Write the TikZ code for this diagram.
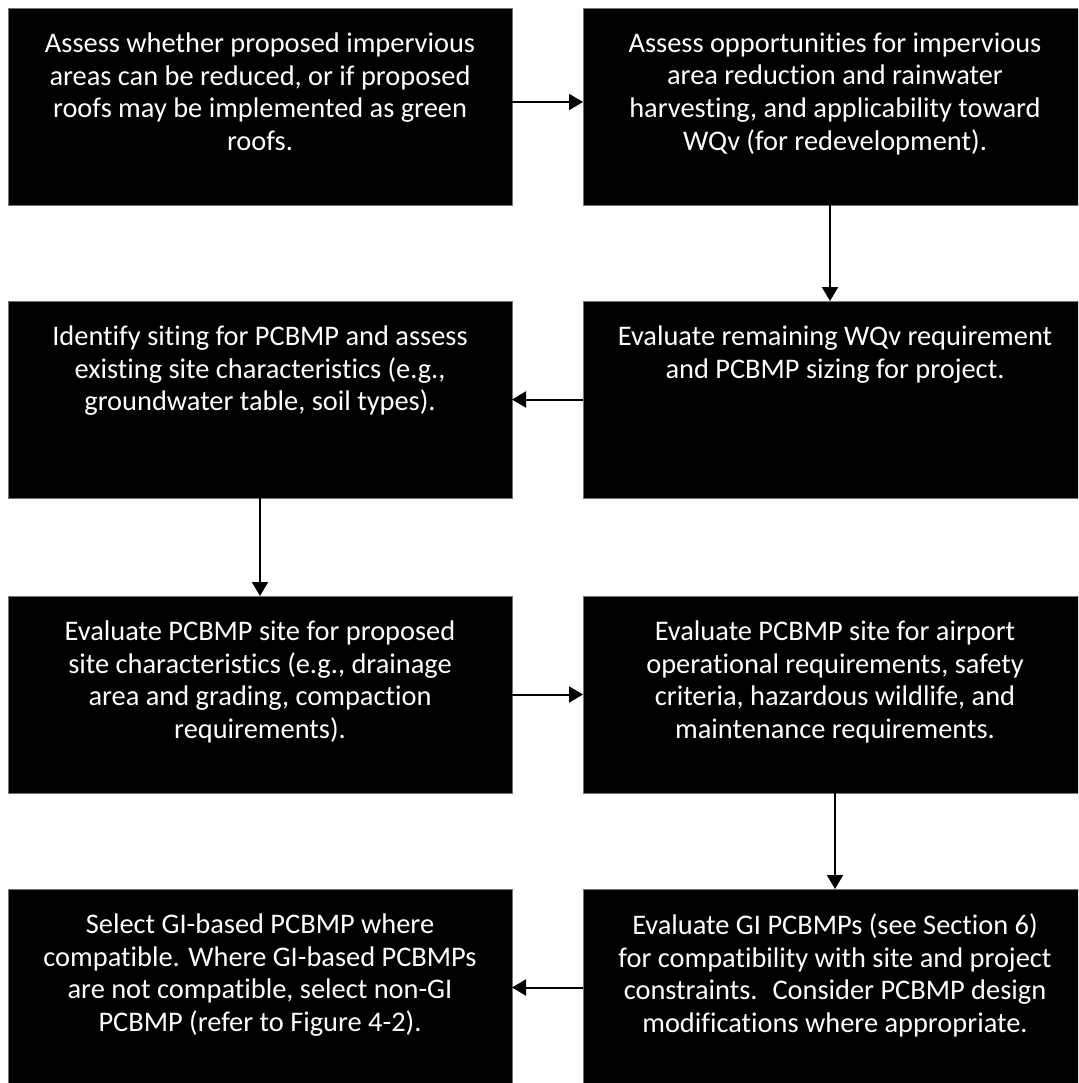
\documentclass[tikz,border=0pt]{standalone}
\usepackage{fontspec}
\setmainfont{Carlito}[Ligatures=NoCommon]
\usetikzlibrary{arrows.meta,positioning}
\tikzstyle{arrow}=[
  draw=black,
  line width=2pt,
  -{Triangle[length=14pt,width=16pt]},
]
\tikzstyle{stepbox}=[
  rectangle,
  fill=black,
  draw=black!55,
  line width=0.6pt,
  minimum width=504pt,
  minimum height=197pt,
  inner sep=0pt,
  outer sep=0pt,
]
\tikzstyle{boxtext}=[
  text=white,
  font={\fontsize{28.4}{32.7}\selectfont},
  align=center,
  inner sep=0pt,
  execute at begin node=\strut,
]
\tikzset{
  node distance=71pt,
}

\begin{document}
\begin{tikzpicture}[x=1pt,y=-1pt]
      \useasboundingbox (0,0) rectangle (1078,1083);
      \clip (0,0) rectangle (1078,1083);
      \node [stepbox] (REDUCE) at (260,106.5) {};
      \node [stepbox, right=of REDUCE] (HARVEST) {};
      \node [stepbox, below=96pt of HARVEST] (REMAIN) {};
      \node [stepbox, left=of REMAIN] (SITING) {};
      \node [stepbox, below=98pt of SITING] (PROPOSED) {};
      \node [stepbox, right=of PROPOSED] (AIRPORT) {};
      \node [stepbox, below=96pt of AIRPORT] (EVALGI) {};
      \node [stepbox, left=of EVALGI] (SELECTGI) {};
      \node [boxtext, below=24.5pt of REDUCE.north] (REDUCE-T) {Assess whether proposed impervious\\areas can be reduced, or if proposed\\roofs may be implemented as green\\roofs.};
      \node [boxtext, below=24.5pt of HARVEST.north] (HARVEST-T) {Assess opportunities for impervious\\area reduction and rainwater\\harvesting, and applicability toward\\WQv (for redevelopment).};
      \node [boxtext, below=24.5pt of REMAIN.north] (REMAIN-T) {Evaluate remaining WQv requirement\\and PCBMP sizing for project.};
      \node [boxtext, below=24.5pt of SITING.north] (SITING-T) {Identify siting for PCBMP and assess\\existing site characteristics (e.g.,\\groundwater table, soil types).};
      \node [boxtext, below=24.5pt of PROPOSED.north] (PROPOSED-T) {Evaluate PCBMP site for proposed\\site characteristics (e.g., drainage\\area and grading, compaction\\requirements).};
      \node [boxtext, below=24.5pt of AIRPORT.north] (AIRPORT-T) {Evaluate PCBMP site for airport\\operational requirements, safety\\criteria, hazardous wildlife, and\\maintenance requirements.};
      \node [boxtext, below=24.5pt of EVALGI.north] (EVALGI-T) {Evaluate GI PCBMPs (see Section 6)\\for compatibility with site and project\\constraints.~ Consider PCBMP design\\modifications where appropriate.};
      \node [boxtext, below=24.5pt of SELECTGI.north] (SELECTGI-T) {Select GI-based PCBMP where\\compatible. Where GI-based PCBMPs\\are not compatible, select non-GI\\PCBMP (refer to Figure 4-2).};
      \draw [arrow] ([yshift=4.5pt]REDUCE.east) -- ([yshift=4.5pt]HARVEST.west);
      \draw [arrow] ([xshift=-5pt]HARVEST.south) -- ([xshift=-5pt]REMAIN.north);
      \draw [arrow] (REMAIN.west) -- (SITING.east);
      \draw [arrow] (SITING.south) -- (PROPOSED.north);
      \draw [arrow] (PROPOSED.east) -- (AIRPORT.west);
      \draw [arrow] (AIRPORT.south) -- (EVALGI.north);
      \draw [arrow] (EVALGI.west) -- (SELECTGI.east);
    \end{tikzpicture}
\end{document}
